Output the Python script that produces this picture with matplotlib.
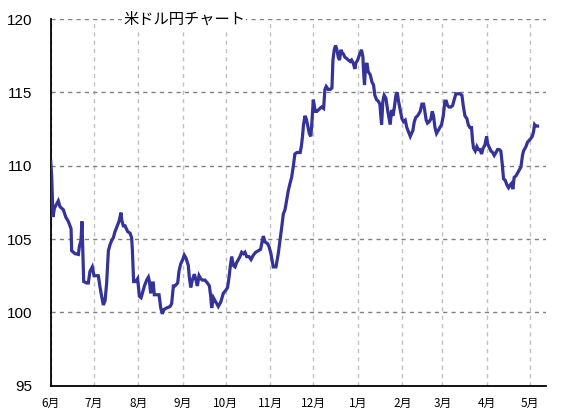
import pandas as pd
import matplotlib.pyplot as plt

# days since 2016-06-01 and USD/JPY close
days = [
    0.0, 0.7, 1.6, 2.6, 4.2, 5.3, 6.5, 8.8, 10.5, 12.3, 14.2, 14.6, 17.0, 19.3, 20.0,
    21.1, 21.8, 23.0, 25.1, 26.2, 27.4, 29.0, 30.2, 33.2, 34.4, 35.5, 36.7, 37.9, 39.0,
    40.2, 41.3, 42.5, 43.7, 44.8, 46.0, 47.6, 49.0, 49.5, 50.6, 51.8, 53.7, 55.3, 56.4,
    56.9, 57.8, 59.2, 60.6, 61.8, 63.0, 63.9, 65.3, 66.9, 68.1, 68.8, 69.7, 70.4, 71.5,
    72.2, 75.5, 76.7, 77.8, 79.0, 80.8, 83.2, 84.3, 85.5, 86.6, 88.5, 89.4, 90.6, 92.0,
    93.1, 94.3, 95.9, 96.6, 97.6, 98.7, 100.1, 101.0, 102.2, 103.4, 104.5, 105.7, 107.5,
    109.2, 110.6, 111.5, 112.2, 113.4, 114.5, 115.7, 116.8, 118.5, 120.3, 122.0, 123.3,
    124.3, 125.0, 126.1, 127.3, 128.5, 129.6, 130.8, 131.9, 133.1, 134.3, 135.4, 136.6,
    138.2, 139.6, 141.2, 142.9, 144.7, 146.3, 147.5, 148.2, 149.4, 151.0, 152.1, 153.5,
    155.1, 157.0, 158.6, 159.8, 161.0, 162.1, 163.3, 164.5, 165.6, 166.8, 167.9, 169.0,
    170.2, 171.6, 173.9, 174.8, 175.5, 176.2, 177.2, 178.1, 179.0, 180.2, 181.3, 182.0,
    183.0, 184.4, 185.5, 186.5, 187.6, 188.8, 190.2, 191.1, 192.0, 193.4, 194.8, 196.0,
    196.7, 197.6, 198.5, 199.5, 200.4, 201.3, 202.3, 203.2, 204.1, 205.0, 206.4, 207.4,
    208.8, 209.7, 210.8, 212.0, 212.7, 213.9, 215.3, 216.6, 217.6, 218.0, 218.7, 219.4,
    220.4, 221.3, 222.7, 223.9, 225.0, 225.9, 227.1, 228.3, 229.4, 230.6, 231.5, 232.4,
    233.6, 234.8, 235.7, 236.6, 237.6, 238.5, 239.4, 240.6, 241.5, 242.4, 243.6, 244.8,
    245.9, 247.1, 248.2, 249.4, 250.6, 251.5, 252.4, 253.4, 254.5, 255.7, 257.5, 258.7,
    259.9, 260.6, 261.7, 262.6, 263.8, 265.0, 265.9, 266.8, 267.8, 268.9, 270.1, 271.2,
    272.4, 273.6, 274.7, 275.7, 276.6, 277.7, 278.9, 280.1, 281.2, 282.4, 283.5, 285.2,
    286.6, 287.5, 288.7, 290.1, 291.0, 292.1, 293.3, 294.0, 294.7, 295.9, 297.0, 298.0,
    299.1, 300.3, 301.4, 302.6, 303.8, 304.5, 305.4, 306.8, 308.0, 309.1, 310.3, 311.4,
    312.6, 313.7, 314.7, 315.6, 316.8, 317.9, 319.1, 320.3, 321.2, 322.1, 323.0, 324.2,
    325.4, 326.5, 327.7, 328.8, 329.5, 331.2, 332.3, 334.2, 335.6, 336.5, 337.2, 338.1,
    339.3,
]
rates = [
    110.3, 109.3, 106.5, 107.1, 107.4, 107.6, 107.2, 107.0, 106.5, 106.2, 105.7, 104.2, 104.0, 103.95, 104.5,
    104.9, 106.2, 102.1, 102.0, 102.0, 102.8, 103.1, 102.5, 102.5, 101.7, 101.1, 100.5, 100.8, 102.0,
    104.2, 104.6, 104.9, 105.1, 105.5, 105.8, 106.2, 106.8, 106.3, 105.9, 105.9, 105.5, 105.4, 105.1,
    104.3, 102.1, 102.1, 102.3, 101.1, 101.0, 101.3, 101.8, 102.2, 102.4, 102.1, 101.3, 102.0, 102.0,
    101.2, 101.2, 100.3, 99.9, 100.2, 100.3, 100.4, 100.6, 101.8, 101.8, 102.0, 102.8, 103.3, 103.6,
    103.9, 103.7, 103.2, 102.4, 101.7, 102.2, 102.6, 102.3, 101.8, 102.5, 102.3, 102.2, 102.2,
    102.0, 101.8, 101.1, 100.3, 101.0, 100.8, 100.6, 100.4, 100.7, 101.3, 101.5, 101.7,
    102.4, 103.0, 103.8, 103.2, 103.1, 103.4, 103.6, 103.8, 104.1, 104.0, 104.1, 103.8,
    103.8, 103.6, 103.9, 104.1, 104.2, 104.3, 104.9, 105.2, 104.8, 104.7, 104.5, 104.0,
    103.1, 103.1, 104.0, 104.9, 105.8, 106.7, 107.0, 107.7, 108.3, 108.8, 109.2, 109.9,
    110.8, 110.9, 110.9, 111.4, 112.0, 112.8, 113.4, 113.2, 112.8, 112.2, 112.0, 112.9,
    114.5, 113.7, 113.7, 113.8, 113.9, 114.0, 113.9, 115.2, 115.4, 115.2, 115.2, 115.3,
    117.2, 117.9, 118.2, 117.9, 117.4, 117.2, 117.9, 117.7, 117.6, 117.4, 117.3, 117.2,
    117.1, 117.2, 117.0, 116.6, 117.0, 117.2, 117.6, 117.9, 117.4, 116.5, 115.5, 116.8,
    117.0, 116.4, 116.2, 115.7, 115.5, 114.8, 114.5, 114.4, 114.2, 112.8, 114.4, 114.8,
    114.6, 113.8, 113.3, 112.8, 113.8, 113.4, 113.9, 114.8, 115.0, 114.4, 113.8, 113.2,
    113.0, 113.1, 112.6, 112.3, 112.0, 112.2, 112.4, 113.0, 113.3, 113.4, 113.7, 114.2,
    114.2, 113.8, 113.1, 112.9, 113.0, 113.2, 113.7, 113.4, 112.6, 112.2, 112.4, 112.6,
    112.8, 113.4, 114.4, 114.4, 114.1, 114.0, 114.0, 114.1, 114.5, 114.9, 114.9, 114.9,
    114.8, 114.1, 113.4, 113.2, 112.8, 112.6, 112.6, 111.7, 111.2, 111.0, 111.3, 111.1,
    111.1, 110.8, 111.2, 111.4, 112.0, 111.5, 111.3, 111.0, 110.9, 110.7, 110.9, 111.1,
    111.1, 111.0, 110.1, 109.1, 109.0, 108.7, 108.5, 108.7, 108.8, 108.4, 109.2, 109.3,
    109.5, 109.7, 109.9, 110.7, 111.0, 111.3, 111.6, 111.8, 112.0, 112.3, 112.8, 112.7,
    112.7,
]
month_labels = ["6月", "7月", "8月", "9月", "10月", "11月", "12月", "1月", "2月", "3月", "4月", "5月"]
title = "米ドル円チャート"

start = pd.Timestamp("2016-06-01")
dates = start + pd.to_timedelta(days, unit="D")
month_ticks = pd.date_range("2016-06-01", periods=12, freq="MS")

fig = plt.figure(figsize=(5.67, 4.18), dpi=100)
ax = fig.add_axes([0.0894, 0.0773, 0.8736, 0.8772])

ax.plot(dates, rates, color="#333399", linewidth=2.3, solid_joinstyle="miter", zorder=3)

ax.set_xlim(start, start + pd.Timedelta(days=345.2))
ax.set_ylim(95, 120)
ax.set_yticks([95, 100, 105, 110, 115, 120])
ax.set_xticks(month_ticks)
ax.set_xticklabels(month_labels, fontsize=8.5, family=["Noto Sans CJK JP", "DejaVu Sans"])
ax.tick_params(axis="y", length=0, pad=13, labelsize=11)
ax.tick_params(axis="x", length=0, pad=8)
for lbl in ax.get_yticklabels():
    lbl.set_family("Liberation Sans")

ax.grid(axis="y", color="#808080", linestyle=(0, (3, 3)), linewidth=1)
ax.grid(axis="x", color="#c0c0c0", linestyle=(0, (3, 3)), linewidth=1)
ax.set_axisbelow(True)

ax.spines["top"].set_visible(False)
ax.spines["right"].set_visible(False)
ax.spines["left"].set_linewidth(1.3)
ax.spines["bottom"].set_linewidth(1.3)

fig.text(184 / 567, 1 - 19.5 / 418, title, ha="center", va="center", fontsize=11,
         family=["Noto Sans CJK JP", "DejaVu Sans"],
         bbox=dict(facecolor="white", edgecolor="none", pad=1))

fig.savefig("out.png", dpi=100)
